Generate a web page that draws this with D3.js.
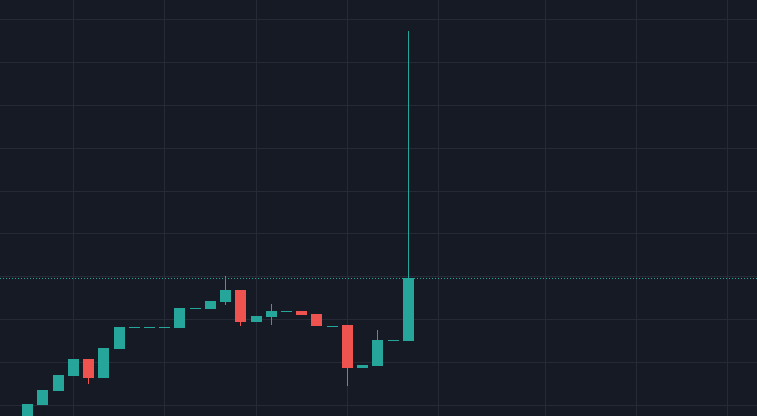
<!DOCTYPE html>
<html>
<head>
<meta charset="utf-8">
<script src="https://cdn.jsdelivr.net/npm/d3@7"></script>
<style>
  html, body { margin: 0; padding: 0; background: #161a25; overflow: hidden; }
  svg { display: block; }
</style>
</head>
<body>
<svg id="chart" width="757" height="416"></svg>
<script>
// ---- data (bar index, open, high, low, close) ----
const barIndex = [0,1,2,3,4,5,6,7,8,9,10,11,12,13,14,15,16,17,18,19,20,21,22,23,24,25];
const opens  = [6.5, 10.07, 13.33, 16.83, 20.79, 16.36, 23.13, 28.19, 28.26, 28.26, 28.02, 32.62, 32.45, 34.08, 36.88, 29.42, 30.59, 31.92, 31.99, 31.29, 28.65, 28.72, 18.70, 19.17, 25.16, 24.99];
const highs  = [10.30, 13.57, 17.06, 20.79, 20.79, 23.36, 28.26, 28.19, 28.26, 28.26, 32.69, 32.62, 34.32, 40.15, 36.88, 30.82, 33.62, 31.92, 31.99, 31.29, 28.65, 28.72, 19.40, 27.56, 25.16, 97.27];
const lows   = [6.5, 10.07, 13.33, 16.83, 14.96, 16.36, 23.13, 28.19, 28.26, 28.26, 28.02, 32.62, 32.45, 33.38, 28.49, 29.42, 28.72, 31.92, 31.05, 28.49, 28.65, 14.50, 18.70, 19.17, 25.16, 24.99];
const closes = [10.30, 13.57, 17.06, 20.79, 16.36, 23.36, 28.26, 28.19, 28.26, 28.26, 32.69, 32.62, 34.32, 36.88, 29.42, 30.82, 31.99, 31.92, 31.05, 28.49, 28.65, 18.70, 19.40, 25.23, 25.16, 39.68];
// grid positions
const timeGridIndex = [3, 9, 15, 21, 27, 34, 40, 46];
const priceGridValues = [10, 20, 30, 40, 50, 60, 70, 80, 90, 100];

const W = 757, H = 416;
const UP = "#26a69a", DOWN = "#ef5350", GRID = "#262a36";

const candles = barIndex.map((d, i) => ({i: d, o: opens[i], h: highs[i], l: lows[i], c: closes[i]}));

const x = d3.scaleLinear().domain([0, 25]).range([27.7, 408.25]);
const y = d3.scaleLinear().domain([10, 100]).range([405.5, 19.5]);

const svg = d3.select("#chart");
svg.append("rect").attr("width", W).attr("height", H).attr("fill", "#161a25");

// grid
const g = svg.append("g").attr("shape-rendering", "crispEdges");
g.selectAll("line.v").data(timeGridIndex).join("line")
  .attr("x1", d => Math.floor(x(d)) + 0.5).attr("x2", d => Math.floor(x(d)) + 0.5)
  .attr("y1", 0).attr("y2", H).attr("stroke", GRID).attr("stroke-width", 1);
g.selectAll("line.h").data(priceGridValues).join("line")
  .attr("y1", d => Math.floor(y(d)) + 0.5).attr("y2", d => Math.floor(y(d)) + 0.5)
  .attr("x1", 0).attr("x2", W).attr("stroke", GRID).attr("stroke-width", 1);

// wicks
const cg = svg.append("g").attr("shape-rendering", "crispEdges");
cg.selectAll("rect.wick").data(candles).join("rect")
  .attr("x", d => Math.floor(x(d.i)))
  .attr("width", 1)
  .attr("y", d => Math.round(y(d.h)))
  .attr("height", d => Math.max(1, Math.round(y(d.l)) - Math.round(y(d.h))))
  .attr("fill", d => d.c >= d.o ? UP : DOWN);

// bodies
cg.selectAll("rect.body").data(candles).join("rect")
  .attr("x", d => Math.floor(x(d.i)) - 5)
  .attr("width", 11)
  .attr("y", d => Math.round(y(Math.max(d.o, d.c))))
  .attr("height", d => Math.max(1, Math.round(y(Math.min(d.o, d.c))) - Math.round(y(Math.max(d.o, d.c)))))
  .attr("fill", d => d.c >= d.o ? UP : DOWN);

// last price line
const last = candles[candles.length - 1];
const py = Math.round(y(last.c)) + 0.5;
svg.append("line")
  .attr("x1", 0).attr("x2", W).attr("y1", py).attr("y2", py)
  .attr("stroke", last.c >= last.o ? UP : DOWN).attr("stroke-width", 1)
  .attr("stroke-dasharray", "1 2").attr("shape-rendering", "crispEdges");
</script>
</body>
</html>
